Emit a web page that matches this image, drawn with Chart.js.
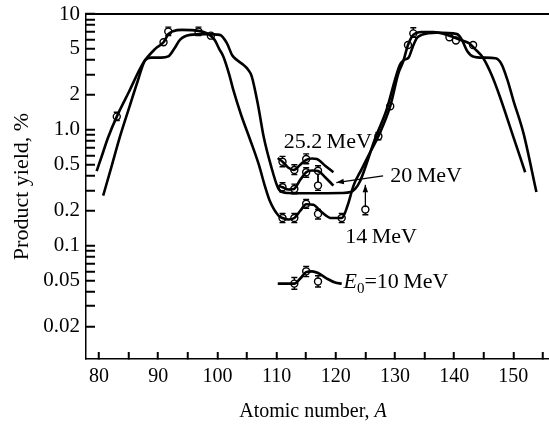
<!DOCTYPE html>
<html>
<head>
<meta charset="utf-8">
<script src="https://cdn.jsdelivr.net/npm/chart.js@4.4.1/dist/chart.umd.min.js"></script>
<style>
  html, body { margin: 0; padding: 0; background: #fff; overflow: hidden; }
  #wrap { width: 549px; height: 426px; overflow: hidden; }
  canvas { display: block; }
</style>
</head>
<body>
<!-- canvas is a few px wider than the window: the label padding Chart.js keeps on the right falls outside -->
<div id="wrap"><canvas id="c" width="556" height="426"></canvas></div>
<script>
// yield curves (A, %)
const narrowA = [79.6, 80.5, 81.5, 83, 85, 87.5, 89.5, 90.9, 91.7, 92.5, 94, 96.8, 98.3, 99, 99.6, 100.3, 101, 102, 102.7, 104, 105.5, 107, 108, 108.9, 110.3, 111, 112, 113, 114, 115, 116.2, 117.6, 119.3, 121, 122, 123, 124.4, 125.8, 127.2, 129.2, 130.6, 131.4, 132.2, 133.1, 134.5, 136.5, 139.2, 141, 142.5, 143.5, 144.9, 146.3, 147.7, 150, 152];
const narrowY = [0.44, 0.6, 0.85, 1.3, 2.1, 3.8, 5.0, 5.7, 6.7, 7.1, 7.3, 7.15, 6.8, 6.4, 5.9, 5.0, 4.3, 3.0, 2.2, 1.35, 0.83, 0.5, 0.33, 0.24, 0.182, 0.173, 0.168, 0.173, 0.2, 0.228, 0.225, 0.195, 0.173, 0.173, 0.222, 0.33, 0.46, 0.64, 0.88, 1.6, 3.1, 3.9, 5.4, 6.6, 7.0, 7.0, 6.5, 6.0, 5.6, 5.0, 4.17, 3.0, 1.95, 0.87, 0.43];

const wideA = [80.7, 82, 83.5, 85, 86.5, 87.8, 88.8, 90.5, 91.7, 92.7, 93.7, 95.4, 98, 100.4, 101.6, 102.5, 103.3, 104.5, 105.2, 105.8, 106.9, 107.8, 109, 110.3, 111, 112, 116, 121, 122.5, 123.3, 124.1, 124.9, 126.6, 128.6, 130, 130.8, 131.5, 132.3, 133, 133.7, 134.5, 137, 140.5, 141.3, 142.2, 143.2, 145, 147, 148, 149, 150, 151.7, 153.9];
const wideY = [0.27, 0.46, 0.86, 1.5, 2.6, 4.0, 4.2, 4.2, 4.3, 5.0, 6.0, 6.6, 6.7, 6.6, 5.6, 4.4, 4.0, 3.6, 3.3, 2.9, 1.6, 0.88, 0.5, 0.31, 0.29, 0.285, 0.283, 0.285, 0.29, 0.31, 0.36, 0.46, 0.83, 1.5, 2.7, 3.6, 4.0, 4.2, 5.2, 6.2, 6.6, 6.9, 6.7, 6.0, 4.8, 4.3, 4.2, 4.15, 3.7, 2.7, 1.8, 0.94, 0.29];

// fine structure in the valley
const frag25A = [110.2, 111, 112, 112.9, 114, 115, 116, 116.8, 118.2, 119.6];
const frag25Y = [0.57, 0.53, 0.47, 0.45, 0.5, 0.55, 0.565, 0.56, 0.49, 0.43];
const frag20A = [110.3, 111, 112, 112.9, 114, 115, 116, 117, 118.2, 119.6];
const frag20Y = [0.33, 0.319, 0.305, 0.308, 0.37, 0.43, 0.445, 0.44, 0.39, 0.33];
const frag10A = [110.2, 111, 112, 113, 114, 115, 116, 117, 118.5, 119.9, 121];
const frag10Y = [0.047, 0.047, 0.047, 0.047, 0.052, 0.059, 0.06, 0.058, 0.052, 0.048, 0.047];

// measured points with error bars
const ptsA = [83, 90.9, 91.7, 96.8, 98.9, 127.2, 129.2, 132.2, 133.1, 139.2, 140.3, 143.2];
const ptsY = [1.3, 5.7, 7.05, 7.05, 6.5, 0.88, 1.6, 5.4, 6.8, 6.3, 5.9, 5.4];
const ptsLo = [1.2, null, 6.5, 6.5, null, 0.82, null, null, 6.3, null, null, null];
const ptsHi = [1.42, null, 7.7, 7.7, null, 0.95, null, null, 7.6, null, null, null];

const pts25A = [111, 113, 115];
const pts25Y = [0.53, 0.45, 0.56];
const pts25Lo = [0.48, 0.41, 0.51];
const pts25Hi = [0.59, 0.5, 0.62];

const pts20A = [111, 113, 115, 117, 117];
const pts20Y = [0.319, 0.308, 0.43, 0.443, 0.33];
const pts20Lo = [0.29, 0.28, 0.39, 0.33, 0.3];
const pts20Hi = [0.35, 0.34, 0.47, 0.49, 0.44];

const pts14A = [111, 113, 115, 117, 121, 125];
const pts14Y = [0.173, 0.173, 0.23, 0.188, 0.173, 0.205];
const pts14Lo = [0.158, 0.158, 0.21, 0.17, 0.158, 0.185];
const pts14Hi = [0.19, 0.19, 0.25, 0.205, 0.19, null];

const pts10A = [113, 115, 117];
const pts10Y = [0.047, 0.06, 0.049];
const pts10Lo = [0.042, 0.054, 0.044];
const pts10Hi = [0.053, 0.066, 0.055];

const xTicks = [80, 85, 90, 95, 100, 105, 110, 115, 120, 125, 130, 135, 140, 145, 150, 155];
const yTicks = [0.02, 0.03, 0.04, 0.05, 0.06, 0.07, 0.08, 0.09, 0.1, 0.2, 0.3, 0.4, 0.5, 0.6, 0.7, 0.8, 0.9, 1, 2, 3, 4, 5, 6, 7, 8, 9, 10];
const yLabels = { 0.02: '0.02', 0.05: '0.05', 0.1: '0.1', 0.2: '0.2', 0.5: '0.5', 1: '1.0', 2: '2', 5: '5', 10: '10' };

const FONT = '"Liberation Serif", "Times New Roman", serif';
const pairs = (a, y) => a.map((v, i) => ({ x: v, y: y[i] }));

const curve = (a, y) => ({
  data: pairs(a, y), showLine: true, borderColor: '#000', borderWidth: 2.6,
  pointRadius: 0, cubicInterpolationMode: 'monotone', fill: false
});
const points = (a, y, lo, hi) => ({
  data: pairs(a, y), showLine: false, pointRadius: 3.5, pointBorderWidth: 1.4,
  pointBackgroundColor: '#fff', pointBorderColor: '#000', lo: lo, hi: hi
});

const errorBars = {
  id: 'errorBars',
  beforeDatasetsDraw(chart) {
    const { ctx, scales: { x, y } } = chart;
    ctx.save();
    ctx.strokeStyle = '#000';
    ctx.lineWidth = 1.4;
    chart.data.datasets.forEach(ds => {
      if (!ds.lo) return;
      ds.data.forEach((p, i) => {
        const px = x.getPixelForValue(p.x);
        const py = y.getPixelForValue(p.y);
        [ds.lo[i], ds.hi[i]].forEach(v => {
          if (v == null) return;
          const e = y.getPixelForValue(v);
          ctx.beginPath();
          ctx.moveTo(px, py); ctx.lineTo(px, e);
          ctx.moveTo(px - 3, e); ctx.lineTo(px + 3, e);
          ctx.stroke();
        });
      });
    });
    ctx.restore();
  }
};

function arrow(ctx, x1, y1, x2, y2) {
  const ang = Math.atan2(y2 - y1, x2 - x1);
  ctx.beginPath();
  ctx.moveTo(x1, y1); ctx.lineTo(x2, y2);
  ctx.stroke();
  ctx.beginPath();
  ctx.moveTo(x2, y2);
  ctx.lineTo(x2 - 8 * Math.cos(ang - 0.35), y2 - 8 * Math.sin(ang - 0.35));
  ctx.lineTo(x2 - 8 * Math.cos(ang + 0.35), y2 - 8 * Math.sin(ang + 0.35));
  ctx.closePath();
  ctx.fill();
}

// top frame line, labels and arrows
const notes = {
  id: 'notes',
  afterDraw(chart) {
    const { ctx, chartArea: a, scales: { x, y } } = chart;
    ctx.save();
    ctx.fillStyle = '#000';
    ctx.strokeStyle = '#000';
    ctx.lineWidth = 2;
    ctx.beginPath();
    ctx.moveTo(a.left, a.top);
    ctx.lineTo(chart.width, a.top);
    ctx.stroke();

    ctx.lineWidth = 1.3;
    ctx.textBaseline = 'alphabetic';
    ctx.font = '22px ' + FONT;
    ctx.fillText('25.2\u2009MeV', x.getPixelForValue(111.2), y.getPixelForValue(0.69));
    ctx.fillText('20\u2009MeV', x.getPixelForValue(129.2), y.getPixelForValue(0.354));
    ctx.fillText('14\u2009MeV', x.getPixelForValue(121.6), y.getPixelForValue(0.106));
    // E0 = 10 MeV
    let px = x.getPixelForValue(121.3), py = y.getPixelForValue(0.0427);
    ctx.font = 'italic 22px ' + FONT;
    ctx.fillText('E', px, py);
    px += ctx.measureText('E').width;
    ctx.font = '15px ' + FONT;
    ctx.fillText('0', px, py + 5);
    px += ctx.measureText('0').width;
    ctx.font = '22px ' + FONT;
    ctx.fillText('=10\u2009MeV', px, py);
    // arrows
    arrow(ctx, x.getPixelForValue(128.0), y.getPixelForValue(0.40), x.getPixelForValue(120.1), y.getPixelForValue(0.35));
    arrow(ctx, x.getPixelForValue(125), y.getPixelForValue(0.215), x.getPixelForValue(125), y.getPixelForValue(0.335));
    // x axis title with italic A
    ctx.textBaseline = 'middle';
    const t1 = 'Atomic number, ';
    ctx.font = '20px ' + FONT;
    const w1 = ctx.measureText(t1).width;
    ctx.font = 'italic 20px ' + FONT;
    const w2 = ctx.measureText('A').width;
    const tx = 313 - (w1 + w2) / 2;
    const ty = chart.height - 14;
    ctx.font = '20px ' + FONT;
    ctx.fillText(t1, tx, ty);
    ctx.font = 'italic 20px ' + FONT;
    ctx.fillText('A', tx + w1, ty);
    ctx.restore();
  }
};

// inward tick marks through the library's own grid (negative tick length)
const tickGrid = (len) => ({
  display: true, drawOnChartArea: false, drawTicks: true,
  tickLength: -len, tickWidth: 2, tickColor: '#000', color: '#000', lineWidth: 1.5
});

new Chart(document.getElementById('c'), {
  type: 'scatter',
  data: {
    datasets: [
      curve(narrowA, narrowY),
      curve(wideA, wideY),
      curve(frag25A, frag25Y),
      curve(frag20A, frag20Y),
      curve(frag10A, frag10Y),
      points(ptsA, ptsY, ptsLo, ptsHi),
      points(pts25A, pts25Y, pts25Lo, pts25Hi),
      points(pts20A, pts20Y, pts20Lo, pts20Hi),
      points(pts14A, pts14Y, pts14Lo, pts14Hi),
      points(pts10A, pts10Y, pts10Lo, pts10Hi)
    ]
  },
  options: {
    responsive: false,
    animation: false,
    layout: { padding: { top: 14, right: 0, left: 0, bottom: 0 } },
    plugins: { legend: { display: false }, tooltip: { enabled: false } },
    scales: {
      x: {
        type: 'linear', min: 77.8, max: 156,
        afterBuildTicks: s => { s.ticks = xTicks.map(v => ({ value: v })); },
        afterFit: s => { s.height = 67; },
        grid: tickGrid(7),
        border: { display: true, color: '#000', width: 1.5 },
        ticks: {
          autoSkip: false, maxRotation: 0, padding: 13, color: '#000',
          font: { family: FONT, size: 20 },
          callback: v => (v % 10 === 0 && v <= 150 ? String(v) : '')
        }
      },
      y: {
        type: 'logarithmic', min: 0.0105, max: 10,
        afterBuildTicks: s => { s.ticks = yTicks.map(v => ({ value: v })); },
        afterFit: s => { s.width = 86; s.paddingTop = 0; s.paddingBottom = 0; },
        grid: tickGrid(9),
        border: { display: true, color: '#000', width: 1.5 },
        title: {
          display: true, text: 'Product yield, %', color: '#000',
          font: { family: FONT, size: 22 }, padding: { top: 9, bottom: 0 }
        },
        ticks: {
          autoSkip: false, padding: 15, color: '#000',
          font: { family: FONT, size: 21 },
          callback: v => yLabels[v] || ''
        }
      }
    }
  },
  plugins: [errorBars, notes]
});
</script>
</body>
</html>
